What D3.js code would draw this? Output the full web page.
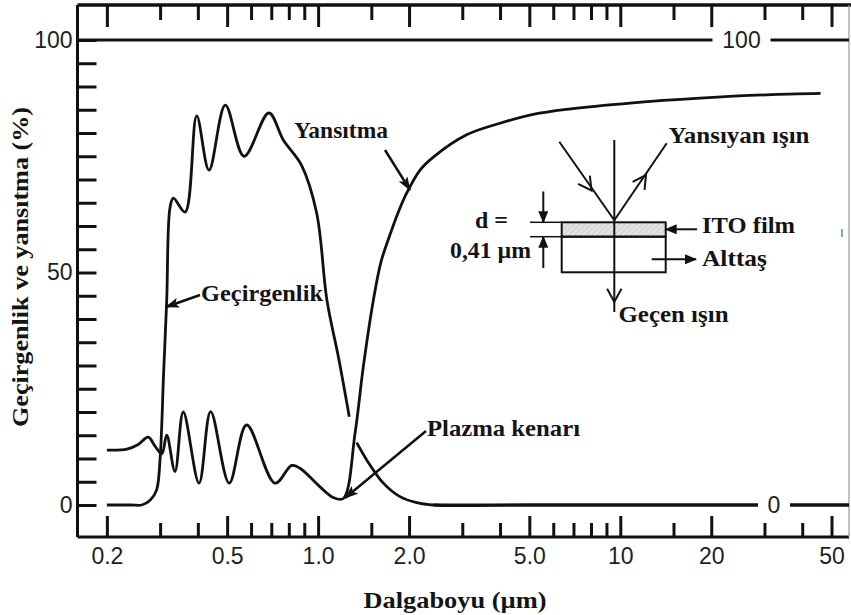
<!DOCTYPE html>
<html>
<head>
<meta charset="utf-8">
<script src="https://cdn.jsdelivr.net/npm/d3@7/dist/d3.min.js"></script>
<style>
  body { margin: 0; background: #fff; }
  svg { display: block; }
  .serif { font-family: "Liberation Serif", "Times New Roman", serif; font-weight: bold; fill: #141414; }
  .sans { font-family: "Liberation Sans", Arial, sans-serif; fill: #1e1e1e; }
</style>
</head>
<body>
<svg id="chart" width="851" height="615"></svg>
<script>
// Transmittance (Geçirgenlik, %) vs wavelength (µm); null marks the break where the curve crosses the reflectance line
const transWave  = [0.2, 0.24, 0.261, 0.278, 0.292, 0.300, 0.308, 0.3155, 0.3236, 0.332, 0.363, 0.3965, 0.4355, 0.493, 0.569, 0.687, 0.767, 0.8825, 0.989, 1.07, 1.17, 1.268, 1.30, 1.342, 1.448, 1.644, 1.866, 2.12, 2.41, 5, 20, 57];
const transValue = [0,   0,    0,     1,     3.2,   10,    28,    44,     64,     66,    63,    83.7,   72,     86,    75,    84.3,  78.5,  73,     62.8,  44,   31.5, 19,    null, 13.4,  9.7,   4.7,   1.8,   0.5,  0,    0, 0,  0];

// Reflectance (Yansıtma, %) vs wavelength (µm)
const reflWave  = [0.2, 0.233, 0.254, 0.274, 0.289, 0.304, 0.3155, 0.336, 0.358, 0.4036, 0.441, 0.508, 0.580, 0.720, 0.818, 0.871, 1.015, 1.123, 1.212, 1.325, 1.411, 1.523, 1.615, 1.729, 1.838, 1.965, 2.174, 2.406, 3.10, 4.0, 5.15, 6.65, 11.0, 18.4, 30.5, 46.0];
const reflValue = [11.8, 12.0, 13.0,  14.6,  12.6,  11.0,  15.0,   7.2,   20.0,  4.7,    20.1,  4.7,   17.2,  4.7,   8.5,   7.9,   3.9,   1.6,   1.4,   15.4,  29.7,  44.0,  52.3,  58.1,  62.8,  67.1,  72.0,  74.8,  79.6, 82.1, 84.0, 85.1, 86.5, 87.5, 88.2, 88.5];

// Axis ticks
const xMajorTicks  = [0.2, 0.5, 1, 2, 5, 10, 20, 50];
const xMajorLabels = ["0.2", "0.5", "1.0", "2.0", "5.0", "10", "20", "50"];
const xMinorTicks  = [0.3, 0.4, 0.6, 0.7, 0.8, 0.9, 1.5, 3, 4, 6, 7, 8, 9, 15, 30, 40];
const yTicks       = d3.range(0, 101, 5);
const yTickLabels  = {0: "0", 50: "50", 100: "100"};

// Full-width reference levels with their inline labels
const refLevels = [100, 0];
const refLabels = ["100", "0"];

const svg = d3.select("#chart");
const W = 851, H = 615;
const frameL = 77.5, frameR = 849, frameT = 5, frameB = 537;

const x = d3.scaleLog().domain([0.16, 57]).range([77.6, 848.7]);
const y = d3.scaleLinear().domain([0, 100]).range([505, 40]);

// arrowhead markers and film hatching
const defs = svg.append("defs");
defs.append("marker").attr("id", "head")
  .attr("viewBox", "0 0 14 10").attr("refX", 13).attr("refY", 5)
  .attr("markerWidth", 14).attr("markerHeight", 10)
  .attr("markerUnits", "userSpaceOnUse").attr("orient", "auto")
  .append("path").attr("d", "M0,0 L14,5 L0,10 L3,5 Z").attr("fill", "#111");
defs.append("marker").attr("id", "headSmall")
  .attr("viewBox", "0 0 12 10").attr("refX", 11).attr("refY", 5)
  .attr("markerWidth", 12).attr("markerHeight", 10)
  .attr("markerUnits", "userSpaceOnUse").attr("orient", "auto")
  .append("path").attr("d", "M0,0 L12,5 L0,10 Z").attr("fill", "#111");
const hatch = defs.append("pattern").attr("id", "hatch")
  .attr("width", 4).attr("height", 4).attr("patternUnits", "userSpaceOnUse")
  .attr("patternTransform", "rotate(45)");
hatch.append("rect").attr("width", 4).attr("height", 4).attr("fill", "#e2e2e2");
hatch.append("line").attr("x1", 0).attr("y1", 0).attr("x2", 0).attr("y2", 4)
  .attr("stroke", "#bdbdbd").attr("stroke-width", 1);

// frame
svg.append("line").attr("x1", frameL).attr("x2", W).attr("y1", frameT).attr("y2", frameT)
  .attr("stroke", "#111").attr("stroke-width", 3.5);
svg.append("line").attr("x1", frameL).attr("x2", frameL).attr("y1", frameT).attr("y2", frameB)
  .attr("stroke", "#111").attr("stroke-width", 3);
svg.append("line").attr("x1", frameL).attr("x2", frameR).attr("y1", frameB).attr("y2", frameB)
  .attr("stroke", "#111").attr("stroke-width", 3);
svg.append("line").attr("x1", frameR).attr("x2", frameR).attr("y1", frameT).attr("y2", frameB)
  .attr("stroke", "#999").attr("stroke-width", 1.2);

// axes
function styleAxis(g) {
  g.select(".domain").remove();
  g.selectAll(".tick line").attr("stroke", "#111").attr("stroke-width", 3);
  g.selectAll(".tick text").attr("class", "sans").attr("font-size", 23).attr("fill", "#1e1e1e");
}
svg.append("g").attr("transform", `translate(0,${frameB})`)
  .call(d3.axisBottom(x).tickValues(xMajorTicks).tickSize(-21).tickPadding(11)
    .tickFormat((d, i) => xMajorLabels[i]))
  .call(styleAxis);
svg.append("g").attr("transform", `translate(0,${frameB})`)
  .call(d3.axisBottom(x).tickValues(xMinorTicks).tickSize(-14).tickFormat(""))
  .call(styleAxis);
svg.append("g").attr("transform", `translate(0,${frameT})`)
  .call(d3.axisTop(x).tickValues(xMajorTicks).tickSize(-22).tickFormat(""))
  .call(styleAxis);
svg.append("g").attr("transform", `translate(0,${frameT})`)
  .call(d3.axisTop(x).tickValues(xMinorTicks).tickSize(-15).tickFormat(""))
  .call(styleAxis);
svg.append("g").attr("transform", `translate(${frameL},0)`)
  .call(d3.axisLeft(y).tickValues(yTicks).tickSize(-19).tickPadding(5)
    .tickFormat(d => yTickLabels[d] || ""))
  .call(styleAxis);

// reference level lines
refLevels.forEach(v => {
  const startX = v === 0 ? x(2.41) : frameL;
  svg.append("line").attr("x1", startX).attr("x2", frameR).attr("y1", y(v)).attr("y2", y(v))
    .attr("stroke", "#111").attr("stroke-width", 3);
});

// curves
const line = d3.line()
  .defined(d => d[1] != null)
  .x(d => x(d[0])).y(d => y(d[1]))
  .curve(d3.curveCatmullRom.alpha(0.5));
const transData = transWave.map((w, i) => [w, transValue[i]]);
const reflData = reflWave.map((w, i) => [w, reflValue[i]]);
svg.append("path").datum(transData).attr("d", line)
  .attr("fill", "none").attr("stroke", "#111").attr("stroke-width", 2.8).attr("stroke-linejoin", "round");
svg.append("path").datum(reflData).attr("d", line)
  .attr("fill", "none").attr("stroke", "#111").attr("stroke-width", 2.8).attr("stroke-linejoin", "round");

// inline labels on the reference levels, drawn over a white gap
const labelX = [741.5, 774];
const gapW = [58, 32];
refLevels.forEach((v, i) => {
  svg.append("rect").attr("x", labelX[i] - gapW[i] / 2).attr("y", y(v) - 6)
    .attr("width", gapW[i]).attr("height", 12).attr("fill", "#fff");
  svg.append("text").attr("class", "sans").attr("font-size", 23)
    .attr("x", labelX[i]).attr("y", y(v)).attr("dy", "0.35em")
    .attr("text-anchor", "middle").text(refLabels[i]);
});

// curve annotations
function note(txt, tx, ty, len, ax1, ay1, ax2, ay2) {
  svg.append("text").attr("class", "serif").attr("font-size", 23)
    .attr("x", tx).attr("y", ty).attr("textLength", len).attr("lengthAdjust", "spacingAndGlyphs").text(txt);
  svg.append("line").attr("x1", ax1).attr("y1", ay1).attr("x2", ax2).attr("y2", ay2)
    .attr("stroke", "#111").attr("stroke-width", 2.5).attr("marker-end", "url(#head)");
}
note("Yansıtma", 294, 138, 94, 385, 150, 410, 190);
note("Geçirgenlik", 201, 301, 122, 200, 295, 166, 307);
note("Plazma kenarı", 427, 436, 153, 426, 431, 345, 498);

// inset: film on substrate with incident, reflected and transmitted rays
const ins = svg.append("g").attr("stroke", "#111").attr("stroke-width", 2).attr("fill", "none");
const ox = 614.3, oy = 222.3;
ins.append("rect").attr("x", 561.7).attr("y", oy).attr("width", 104).attr("height", 14.4)
  .attr("fill", "url(#hatch)");
ins.append("rect").attr("x", 561.7).attr("y", oy + 14.4).attr("width", 104).attr("height", 35.6);
ins.append("line").attr("x1", ox).attr("y1", 140).attr("x2", ox).attr("y2", 312);
ins.append("line").attr("x1", 559.3).attr("y1", 141.7).attr("x2", ox).attr("y2", oy - 2);
ins.append("line").attr("x1", ox).attr("y1", oy - 2).attr("x2", 666.7).attr("y2", 143.3);
function chevron(px, py, dx, dy) {
  const a = Math.atan2(dy, dx), L = 15, s = 0.5;
  const p1 = [px - L * Math.cos(a - s), py - L * Math.sin(a - s)];
  const p2 = [px - L * Math.cos(a + s), py - L * Math.sin(a + s)];
  ins.append("path").attr("d", `M${p1}L${px},${py}L${p2}`);
}
chevron(591.5, 190.5, ox - 559.3, oy - 2 - 141.7);
chevron(646, 175, 666.7 - ox, 143.3 - (oy - 2));
chevron(ox, 302, 0, 1);
// thickness dimension marks
ins.append("line").attr("x1", 530).attr("x2", 561.7).attr("y1", oy).attr("y2", oy).attr("stroke-width", 1.5);
ins.append("line").attr("x1", 530).attr("x2", 561.7).attr("y1", oy + 14.4).attr("y2", oy + 14.4).attr("stroke-width", 1.5);
ins.append("line").attr("x1", 543.3).attr("x2", 543.3).attr("y1", 191.5).attr("y2", oy)
  .attr("marker-end", "url(#headSmall)");
ins.append("line").attr("x1", 543.3).attr("x2", 543.3).attr("y1", 268).attr("y2", oy + 14.4)
  .attr("marker-end", "url(#headSmall)");
ins.append("line").attr("x1", 697).attr("x2", 665.7).attr("y1", 229.3).attr("y2", 229.3)
  .attr("marker-end", "url(#headSmall)");
ins.append("line").attr("x1", 651.7).attr("x2", 696).attr("y1", 259.3).attr("y2", 259.3)
  .attr("marker-end", "url(#headSmall)");

function label(txt, tx, ty, len, anchor) {
  svg.append("text").attr("class", "serif").attr("font-size", 23)
    .attr("x", tx).attr("y", ty).attr("text-anchor", anchor || "start")
    .attr("textLength", len).attr("lengthAdjust", "spacingAndGlyphs").text(txt);
}
label("Yansıyan ışın", 668.5, 143, 141);
label("ITO film", 702, 233, 93);
label("Alttaş", 702, 266, 65);
label("Geçen ışın", 618.5, 322, 110);
label("d =", 475, 228, 33);
label("0,41 µm", 450, 258, 81);

// small blue mark at the right edge
svg.append("line").attr("x1", 842).attr("x2", 842).attr("y1", 229).attr("y2", 237)
  .attr("stroke", "#5b86c0").attr("stroke-width", 1.5);

// axis titles
svg.append("text").attr("class", "serif").attr("font-size", 24)
  .attr("transform", "translate(28,267) rotate(-90)").attr("text-anchor", "middle")
  .attr("textLength", 320).attr("lengthAdjust", "spacingAndGlyphs")
  .text("Geçirgenlik ve yansıtma (%)");
svg.append("text").attr("class", "serif").attr("font-size", 24)
  .attr("x", 455).attr("y", 608).attr("text-anchor", "middle")
  .attr("textLength", 183).attr("lengthAdjust", "spacingAndGlyphs")
  .text("Dalgaboyu (µm)");
</script>
</body>
</html>
